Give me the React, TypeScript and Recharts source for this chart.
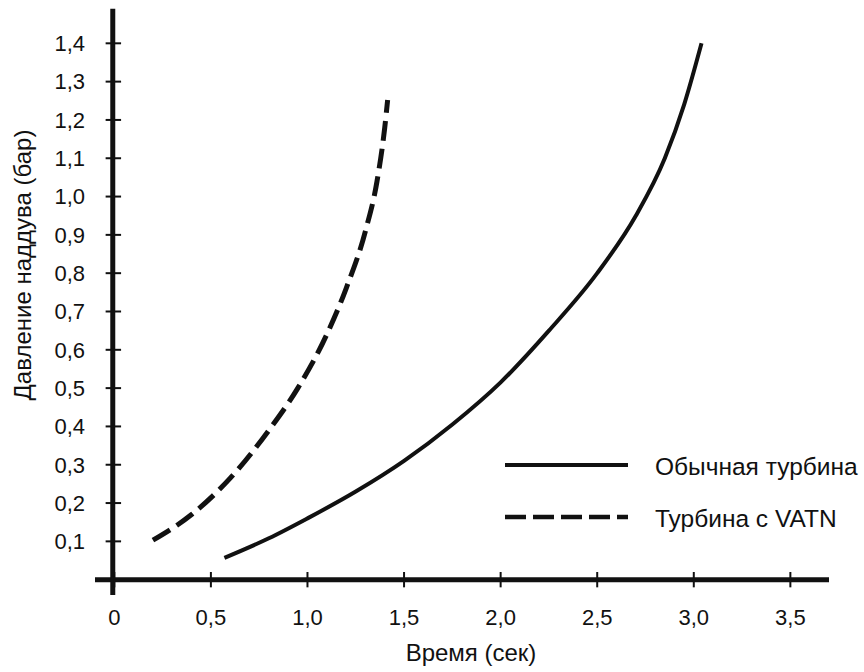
import React from 'react';
import { LineChart, Line, XAxis, YAxis, ReferenceLine } from 'recharts';

// Time (s) ticks and pressure (bar) ticks
const timeTicks = [0, 0.5, 1, 1.5, 2, 2.5, 3, 3.5];
const pressureTicks = [0.1, 0.2, 0.3, 0.4, 0.5, 0.6, 0.7, 0.8, 0.9, 1.0, 1.1, 1.2, 1.3, 1.4];

// Обычная турбина (solid)
const normalTime = [0.57, 0.8, 1.0, 1.25, 1.5, 1.75, 2.0, 2.25, 2.5, 2.7, 2.85, 2.95, 3.04];
const normalPressure = [0.057, 0.108, 0.16, 0.23, 0.31, 0.405, 0.515, 0.65, 0.8, 0.95, 1.1, 1.24, 1.4];

// Турбина с VATN (dashed)
const vatnTime = [0.2, 0.4, 0.6, 0.8, 0.95, 1.1, 1.2, 1.3, 1.36, 1.4, 1.415];
const vatnPressure = [0.103, 0.17, 0.265, 0.39, 0.5, 0.64, 0.76, 0.91, 1.04, 1.18, 1.252];

const seriesNames = ['Обычная турбина', 'Турбина с VATN'];

const normalData = normalTime.map((t, i) => ({ t, p: normalPressure[i] }));
const vatnData = vatnTime.map((t, i) => ({ t, p: vatnPressure[i] }));

const FONT = '"Liberation Sans", Arial, sans-serif';
const INK = '#111';

const fmt = (v: number) => (v === 0 ? '0' : v.toFixed(1).replace('.', ','));

const YLabel = () => (
  <text
    x={22}
    y={265}
    transform="rotate(-90 22 265)"
    textAnchor="middle"
    dominantBaseline="central"
    fontFamily={FONT}
    fontSize={24}
    fill={INK}
  >
    Давление наддува (бар)
  </text>
);

const LegendBox = () => (
  <svg
    width={370}
    height={100}
    style={{ position: 'absolute', left: 500, top: 440, display: 'block' }}
  >
    <line x1={5} y1={25} x2={128} y2={25} stroke={INK} strokeWidth={4} />
    <text x={155} y={26} dominantBaseline="central" fontFamily={FONT} fontSize={24.5} fill={INK}>
      {seriesNames[0]}
    </text>
    <line x1={5} y1={77} x2={128} y2={77} stroke={INK} strokeWidth={4.5} strokeDasharray="21 7" />
    <text x={155} y={78} dominantBaseline="central" fontFamily={FONT} fontSize={24.5} fill={INK}>
      {seriesNames[1]}
    </text>
  </svg>
);

export default function App() {
  return (
    <div style={{ position: 'absolute', left: 0, top: 0, width: 864, height: 672, background: '#fff' }}>
      <LineChart
        width={864}
        height={672}
        margin={{ top: 5, right: 35, bottom: 7, left: 0 }}
      >
        <XAxis
          type="number"
          dataKey="t"
          domain={[-0.1, 3.7]}
          allowDataOverflow
          ticks={timeTicks}
          interval={0}
          tickFormatter={fmt}
          axisLine={false}
          tickLine={false}
          tickSize={0}
          tickMargin={14}
          height={70}
          tick={{ fill: INK, fontSize: 22, fontFamily: FONT }}
          label={{ value: 'Время (сек)', position: 'insideBottom', offset: 4, fill: INK, fontSize: 24, fontFamily: FONT, dx: 9 }}
        />
        <YAxis
          type="number"
          dataKey="p"
          domain={[-0.04, 1.5]}
          allowDataOverflow
          ticks={pressureTicks}
          interval={0}
          tickFormatter={fmt}
          axisLine={false}
          tickLine={false}
          tickSize={0}
          tickMargin={10}
          width={95}
          tick={{ fill: INK, fontSize: 22, fontFamily: FONT }}
          label={<YLabel />}
        />
        <ReferenceLine
          segment={[{ x: -0.1, y: 0 }, { x: 3.7, y: 0 }]}
          stroke={INK}
          strokeWidth={5}
        />
        <ReferenceLine
          segment={[{ x: -0.008, y: -0.04 }, { x: -0.008, y: 1.49 }]}
          stroke={INK}
          strokeWidth={5}
        />
        {timeTicks.map((t) => (
          <ReferenceLine
            key={'xt' + t}
            segment={[{ x: t, y: -0.02 }, { x: t, y: 0.02 }]}
            stroke={INK}
            strokeWidth={2}
          />
        ))}
        {pressureTicks.map((p) => (
          <ReferenceLine
            key={'yt' + p}
            segment={[{ x: -0.045, y: p }, { x: 0.035, y: p }]}
            stroke={INK}
            strokeWidth={2}
          />
        ))}
        <Line
          data={normalData}
          dataKey="p"
          name={seriesNames[0]}
          type="monotone"
          stroke={INK}
          strokeWidth={4}
          dot={false}
          isAnimationActive={false}
        />
        <Line
          data={vatnData}
          dataKey="p"
          name={seriesNames[1]}
          type="monotone"
          stroke={INK}
          strokeWidth={5}
          strokeDasharray="20 8"
          dot={false}
          isAnimationActive={false}
        />
      </LineChart>
      <LegendBox />
    </div>
  );
}
